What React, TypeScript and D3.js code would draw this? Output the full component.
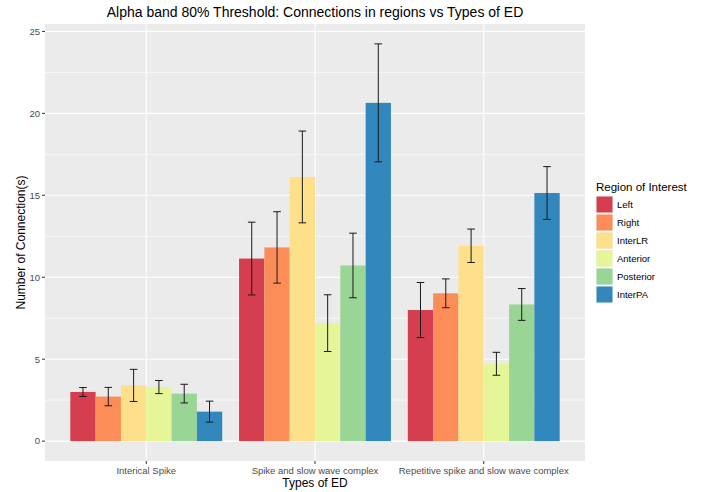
import * as d3 from "d3";

// chart data
const categories = [
  "Interical Spike",
  "Spike and slow wave complex",
  "Repetitive spike and slow wave complex",
];
const regions = ["Left", "Right", "InterLR", "Anterior", "Posterior", "InterPA"];
const regionColors = ["#D53E4F", "#FC8D59", "#FEE08B", "#E6F598", "#99D594", "#3288BD"];

// mean connections per region, one array per type of ED
const intericalMean = [3.0, 2.72, 3.4, 3.3, 2.9, 1.8];
const spikeSlowMean = [11.14, 11.82, 16.12, 7.2, 10.72, 20.64];
const repetitiveMean = [8.0, 9.02, 11.92, 4.72, 8.34, 15.14];

// standard errors (half error bar length)
const intericalSe = [0.27, 0.56, 0.98, 0.4, 0.57, 0.64];
const spikeSlowSe = [2.22, 2.18, 2.8, 1.73, 1.97, 3.6];
const repetitiveSe = [1.68, 0.88, 1.02, 0.7, 0.97, 1.61];

const yTicks = [0, 5, 10, 15, 20, 25];

const W = 701;
const H = 492;
const margin = { top: 24, right: 116, bottom: 31, left: 45 };
const font = "'Liberation Sans', Arial, sans-serif";

export default function App() {
  const means = [intericalMean, spikeSlowMean, repetitiveMean];
  const ses = [intericalSe, spikeSlowSe, repetitiveSe];

  const rows = categories.flatMap((cat, ci) =>
    regions.map((reg, ri) => ({
      cat,
      reg,
      ri,
      mean: means[ci][ri],
      se: ses[ci][ri],
    }))
  );

  const maxY = d3.max(rows, (d) => d.mean + d.se)!;
  const pad = maxY * 0.05;

  const x0 = margin.left;
  const x1 = W - margin.right;
  const y0 = H - margin.bottom;
  const y1 = margin.top;

  const y = d3.scaleLinear().domain([-pad, maxY + pad]).range([y0, y1]);
  // discrete scale with ggplot's 0.6 unit expansion
  const unit = (x1 - x0) / (categories.length - 1 + 1.2);
  const xc = d3
    .scalePoint<string>()
    .domain(categories)
    .range([x0 + 0.6 * unit, x1 - 0.6 * unit]);
  const groupW = 0.9 * unit;
  const xb = d3.scaleBand<string>().domain(regions).range([-groupW / 2, groupW / 2]);
  const color = d3.scaleOrdinal<string, string>().domain(regions).range(regionColors);

  const minorTicks = yTicks.slice(0, -1).map((t) => t + 2.5).filter((t) => y(t) > y1);
  const whisker = xb.bandwidth() * 0.3;

  return (
    <svg
      width={W}
      height={H}
      style={{ position: "absolute", left: 0, top: 0, background: "#fff" }}
      fontFamily={font}
    >
      {/* panel */}
      <rect x={x0} y={y1} width={x1 - x0} height={y0 - y1} fill="#EBEBEB" />
      {minorTicks.map((t) => (
        <line key={"m" + t} x1={x0} x2={x1} y1={y(t)} y2={y(t)} stroke="#fff" strokeWidth={0.6} />
      ))}
      {yTicks.map((t) => (
        <line key={"g" + t} x1={x0} x2={x1} y1={y(t)} y2={y(t)} stroke="#fff" strokeWidth={1.1} />
      ))}
      {categories.map((c) => (
        <line key={"v" + c} x1={xc(c)} x2={xc(c)} y1={y1} y2={y0} stroke="#fff" strokeWidth={1.1} />
      ))}

      {/* bars */}
      {rows.map((d) => (
        <rect
          key={d.cat + d.reg}
          x={xc(d.cat)! + xb(d.reg)!}
          y={y(d.mean)}
          width={xb.bandwidth()}
          height={y(0) - y(d.mean)}
          fill={color(d.reg)}
        />
      ))}

      {/* error bars */}
      {rows.map((d) => {
        const cx = xc(d.cat)! + xb(d.reg)! + xb.bandwidth() / 2;
        const top = y(d.mean + d.se);
        const bot = y(d.mean - d.se);
        return (
          <g key={"e" + d.cat + d.reg} stroke="#1a1a1a" strokeWidth={1}>
            <line x1={cx} x2={cx} y1={top} y2={bot} />
            <line x1={cx - whisker / 2} x2={cx + whisker / 2} y1={top} y2={top} />
            <line x1={cx - whisker / 2} x2={cx + whisker / 2} y1={bot} y2={bot} />
          </g>
        );
      })}

      {/* y axis */}
      {yTicks.map((t) => (
        <g key={"yt" + t}>
          <line x1={x0 - 3} x2={x0} y1={y(t)} y2={y(t)} stroke="#333" />
          <text
            x={x0 - 5}
            y={y(t)}
            dy="0.35em"
            textAnchor="end"
            fontSize={9.5}
            fill="#4D4D4D"
          >
            {t}
          </text>
        </g>
      ))}

      {/* x axis */}
      {categories.map((c) => (
        <g key={"xt" + c}>
          <line x1={xc(c)} x2={xc(c)} y1={y0} y2={y0 + 3} stroke="#333" />
          <text x={xc(c)} y={y0 + 13} textAnchor="middle" fontSize={9.5} fill="#4D4D4D">
            {c}
          </text>
        </g>
      ))}

      {/* titles */}
      <text x={(x0 + x1) / 2} y={17} textAnchor="middle" fontSize={14} fill="#000">
        Alpha band 80% Threshold: Connections in regions vs Types of ED
      </text>
      <text x={(x0 + x1) / 2} y={487} textAnchor="middle" fontSize={12} fill="#000">
        Types of ED
      </text>
      <text
        transform={`translate(25,${(y0 + y1) / 2}) rotate(-90)`}
        textAnchor="middle"
        fontSize={12}
        fill="#000"
      >
        Number of Connection(s)
      </text>

      {/* legend */}
      <text x={596} y={191} fontSize={11.5} fill="#000">
        Region of Interest
      </text>
      {regions.map((r, i) => (
        <g key={"l" + r} transform={`translate(596,${196 + i * 18})`}>
          <rect width={17} height={17} fill="#F2F2F2" />
          <rect x={0.5} y={0.5} width={16} height={16} fill={color(r)} />
          <text x={21} y={8.5} dy="0.35em" fontSize={9.5} fill="#000">
            {r}
          </text>
        </g>
      ))}
    </svg>
  );
}
